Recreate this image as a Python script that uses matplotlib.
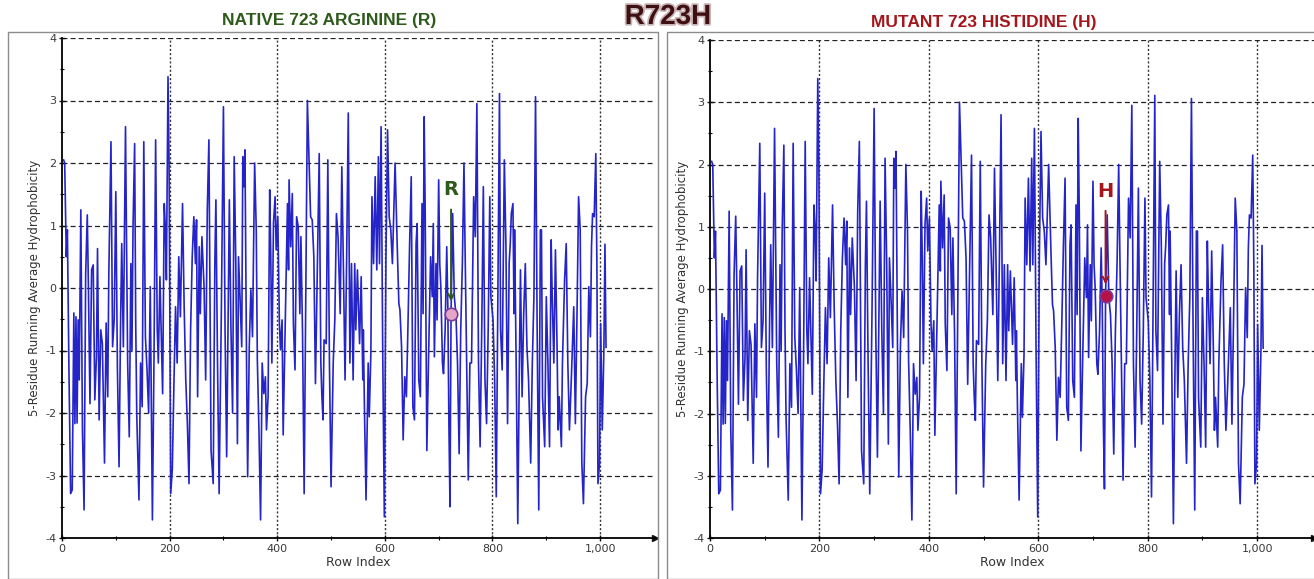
import numpy as np
import matplotlib.pyplot as plt
from matplotlib.patches import Rectangle
from matplotlib.ticker import FuncFormatter, MultipleLocator
import matplotlib.patheffects as pe

plt.rcParams['axes.unicode_minus'] = False

# Row index and 5-residue running average (turning points)
row_index = [3, 5, 8, 10, 13, 16, 19, 22, 24, 26, 28, 30, 32, 35, 38, 41, 44, 47, 49, 52,
             55, 58, 61, 64, 66, 69, 72, 75, 79, 82, 85, 87, 91, 94, 97, 100, 103, 106, 109, 111,
             114, 118, 122, 125, 128, 130, 132, 135, 137, 139, 143, 146, 149, 152, 155, 158, 161, 164, 168, 171,
             174, 177, 179, 182, 185, 187, 190, 192, 194, 197, 199, 202, 205, 208, 211, 214, 217, 220, 224, 227,
             230, 233, 236, 239, 242, 245, 248, 250, 252, 255, 257, 260, 264, 267, 270, 273, 277, 281, 284, 286,
             289, 292, 296, 300, 303, 306, 309, 311, 314, 317, 320, 323, 326, 328, 331, 334, 336, 338, 340, 343,
             345, 348, 351, 354, 358, 361, 363, 366, 369, 372, 375, 378, 380, 383, 386, 388, 390, 393, 396, 398,
             401, 404, 406, 409, 411, 415, 419, 421, 422, 425, 428, 430, 433, 436, 439, 442, 444, 447, 450, 453,
             456, 459, 462, 465, 468, 471, 474, 478, 481, 483, 485, 487, 491, 494, 497, 500, 504, 507, 510, 513,
             517, 520, 523, 526, 529, 532, 535, 538, 541, 544, 546, 549, 553, 556, 559, 560, 562, 565, 569, 571,
             574, 576, 579, 582, 585, 588, 590, 593, 596, 599, 602, 605, 608, 611, 614, 617, 619, 623, 626, 628,
             631, 634, 637, 640, 643, 646, 649, 652, 655, 658, 660, 663, 666, 669, 671, 673, 675, 678, 681, 685,
             688, 690, 692, 695, 697, 700, 702, 704, 707, 709, 712, 715, 717, 719, 721, 723, 726, 729, 732, 735,
             738, 741, 744, 747, 749, 752, 755, 758, 761, 765, 768, 771, 774, 777, 780, 783, 786, 789, 792, 795,
             797, 801, 804, 807, 810, 813, 815, 818, 822, 825, 828, 831, 833, 835, 838, 840, 841, 844, 847, 850,
             852, 855, 858, 861, 864, 867, 871, 874, 877, 880, 883, 886, 889, 891, 893, 897, 900, 903, 906, 909,
             911, 914, 917, 920, 922, 924, 928, 930, 934, 937, 940, 943, 946, 949, 951, 954, 957, 960, 963, 966,
             969, 973, 976, 979, 982, 984, 986, 989, 992, 994, 996, 999, 1001, 1004, 1007, 1009, 1011]

hydro_native = [2.05, 2.0, 0.5, 0.93, -1.37, -3.29, -3.23, -0.4, -2.17, -0.46, -2.16, -0.51, -1.47, 1.25, -2.27, -3.55, 0.23, 1.17, 0.07, -1.85,
                0.29, 0.37, -1.79, -1.1, 0.63, -2.11, -0.67, -0.89, -2.8, -0.56, -1.74, 0.23, 2.34, -0.94, -0.51, 1.54, -1.31, -2.86, -0.46, 0.71,
                -0.94, 2.58, -1.2, -2.38, 0.39, -1.0, 0.98, 2.31, -0.57, -2.06, -3.39, -1.2, -1.9, 2.34, -0.78, -1.31, -2.0, 0.02, -3.71, -1.1,
                2.37, -0.67, -1.2, 0.18, -0.94, -1.69, 1.35, 0.98, 0.13, 3.38, 2.0, -3.29, -2.9, -1.53, -0.3, -1.2, 0.5, -0.46, 1.35, -0.3,
                -1.47, -2.17, -3.13, -0.67, 0.5, 1.14, 0.39, 1.09, -1.74, 0.66, -0.41, 0.82, 0.02, -1.47, 1.25, 2.37, -2.6, -3.13, 0.39, 1.41,
                -1.2, -3.29, -0.46, 2.9, -0.67, -2.7, -0.14, 1.41, -0.67, -2.0, 2.1, 0.39, -2.49, 0.5, -0.19, -0.94, 2.1, 1.62, 2.21, -1.26,
                -3.02, -0.94, -0.03, -0.78, 2.0, 0.93, -1.15, -2.27, -3.71, -1.2, -1.69, -1.42, -2.27, -1.74, 1.57, 0.5, -1.2, 1.04, 1.46, 0.61,
                1.14, -0.57, -0.99, -0.51, -2.35, -0.5, 1.35, 0.29, 1.73, 0.66, 1.51, -0.57, -1.31, 1.14, 0.98, -0.41, 0.82, -0.73, -3.29, -0.2,
                3.0, 2.1, 1.14, 1.09, 0.5, -1.53, 0.07, 2.15, -1.2, -1.74, -2.11, -0.83, -0.89, 2.05, -1.2, -3.18, -1.2, -0.51, 1.19, 0.82,
                -0.41, 1.94, 0.3, -1.47, 0.5, 2.8, -1.2, 0.39, -1.47, 0.39, -0.67, 0.29, -0.89, 0.18, -1.47, -0.67, -1.9, -3.39, -1.2, -2.06,
                -1.04, 1.46, 0.39, 1.78, 0.29, 2.1, 0.39, 2.58, -1.0, -3.66, 0.5, 2.53, 1.14, 0.93, 0.39, 1.35, 2.0, 0.66, -0.25, -0.35,
                -0.94, -2.43, -1.42, -1.74, -0.57, 0.71, 1.78, -1.9, -2.11, 0.71, 1.03, -1.47, -1.74, 1.35, -0.41, 2.74, 1.19, -2.6, -1.2, 0.5,
                -0.14, 1.03, -1.1, 0.39, -0.51, 1.73, 0.39, 0.02, -1.2, -1.37, -0.67, 0.66, -0.3, -2.17, -3.5, -0.41, 1.19, -0.14, -0.41, -1.2,
                -2.65, -0.67, 0.39, 2.0, 0.66, -1.2, -3.07, -1.2, -1.2, 1.46, 0.82, 2.95, -1.2, -2.54, -0.67, 1.62, -1.47, -2.17, -0.67, 1.46,
                -0.14, -0.51, -1.47, -3.34, -0.14, 3.11, -0.67, -1.31, 2.05, 0.66, -2.17, 0.4, 0.71, 1.19, 1.35, -0.41, 0.93, -1.2, -3.77, -1.2,
                0.29, -1.74, -0.41, 0.39, -0.94, -1.47, -2.8, -1.2, -0.14, 3.06, -0.67, -3.55, 0.93, 0.93, -1.74, -2.54, -0.14, -1.2, -2.54, 0.77,
                -0.14, -1.2, 0.61, -0.94, -2.27, -1.74, -2.54, -1.2, 0.13, 0.71, -1.2, -2.27, -1.58, -0.83, -0.3, -2.17, -0.46, 1.46, 0.93, -2.8,
                -3.45, -1.74, -1.53, 0.02, -0.78, 0.66, 1.19, 1.14, 2.15, 0.39, -3.13, -2.8, -0.57, -2.27, -0.99, 0.7, -0.95]

# Values that differ in the mutant (window around residue 723)
mut_index = [721, 723]
mut_values = [-3.21, -0.12]

site = 723

hydro_mutant = list(hydro_native)
for i, v in zip(mut_index, mut_values):
    hydro_mutant[row_index.index(i)] = v

W, H = 1314, 579
fig = plt.figure(figsize=(W / 100, H / 100), dpi=100)

head_font = ['Liberation Sans', 'DejaVu Sans']

# Panel frames
fig.add_artist(Rectangle((8 / W, 0), 650 / W, (H - 32) / H, transform=fig.transFigure,
                         fill=False, ec='#8c8c8c', lw=1.0))
fig.add_artist(Rectangle((667 / W, 0), 650 / W, (H - 32) / H, transform=fig.transFigure,
                         fill=False, ec='#8c8c8c', lw=1.0))


def draw_panel(x0, x1, top, xmax, values, site_val, color, letter, face):
    ax = fig.add_axes([x0 / W, (H - 538) / H, (x1 - x0) / W, (538 - top) / H])
    ax.plot(row_index, values, color='#2424c8', lw=1.2, zorder=3)
    ax.set_xlim(0, xmax)
    ax.set_ylim(-4, 4)

    ax.set_yticks(range(-4, 5))
    ax.yaxis.set_minor_locator(MultipleLocator(0.5))
    ax.set_xticks(range(0, 1001, 200))
    ax.xaxis.set_minor_locator(MultipleLocator(100))
    ax.xaxis.set_major_formatter(FuncFormatter(lambda v, p: f'{v:,.0f}'))

    ax.tick_params(axis='both', which='major', labelsize=8, length=4, width=1,
                   direction='inout', colors='#111111', labelcolor='#3a3a3a', pad=2)
    ax.tick_params(axis='both', which='minor', length=3, width=0.8, direction='inout')

    ax.grid(axis='y', which='major', ls=(0, (4, 2.5)), color='#222222', lw=0.9)
    for x in range(200, 1001, 200):
        ax.axvline(x, ls=(0, (1.5, 1.5)), color='#333333', lw=1.0, zorder=1)

    for s in ['top', 'right']:
        ax.spines[s].set_visible(False)
    ax.spines['left'].set_linewidth(1.3)
    ax.spines['bottom'].set_linewidth(1.3)
    ax.plot(1.0, 0, '>', color='#111111', ms=4, transform=ax.transAxes, clip_on=False)

    ax.set_xlabel('Row Index', fontsize=9, color='#333333', labelpad=2)
    ax.set_ylabel('5-Residue Running Average Hydrophobicity', fontsize=8.5, color='#333333')
    ax.yaxis.set_label_coords(-0.035, 0.5)

    # marker of the residue 723
    ax.annotate('', xy=(site, site_val + 0.15), xytext=(site, 1.3),
                arrowprops=dict(arrowstyle='->', color=color, lw=1.4), zorder=5)
    ax.text(site, 1.57, letter, color=color, fontsize=14, fontweight='bold',
            ha='center', va='center', zorder=5)
    ax.plot(site, site_val, 'o', ms=9, mfc=face, mec='#7b3b9b', mew=1.2, zorder=6)
    return ax


draw_panel(62, 655, 38, 1102, hydro_native, hydro_native[row_index.index(site)],
           '#2e5a1c', 'R', '#e3a6c8')
draw_panel(710, 1314, 40, 1104, hydro_mutant, hydro_mutant[row_index.index(site)],
           '#a3161c', 'H', '#b5124a')

fig.text(329 / W, 1 - 21 / H, 'NATIVE 723 ARGININE (R)', family=head_font, fontsize=12.5,
         fontweight='bold', color='#2e5a1c', ha='center', va='center')
fig.text(984 / W, 1 - 22 / H, 'MUTANT 723 HISTIDINE (H)', family=head_font, fontsize=12.5,
         fontweight='bold', color='#a3161c', ha='center', va='center')
fig.text(668 / W, 1 - 17 / H, 'R723H', family=head_font, fontsize=20, fontweight='bold',
         color='#3e1014', ha='center', va='center',
         path_effects=[pe.withStroke(linewidth=2.5, foreground='#c9b5b5')])

fig.savefig('out.png', dpi=100)
